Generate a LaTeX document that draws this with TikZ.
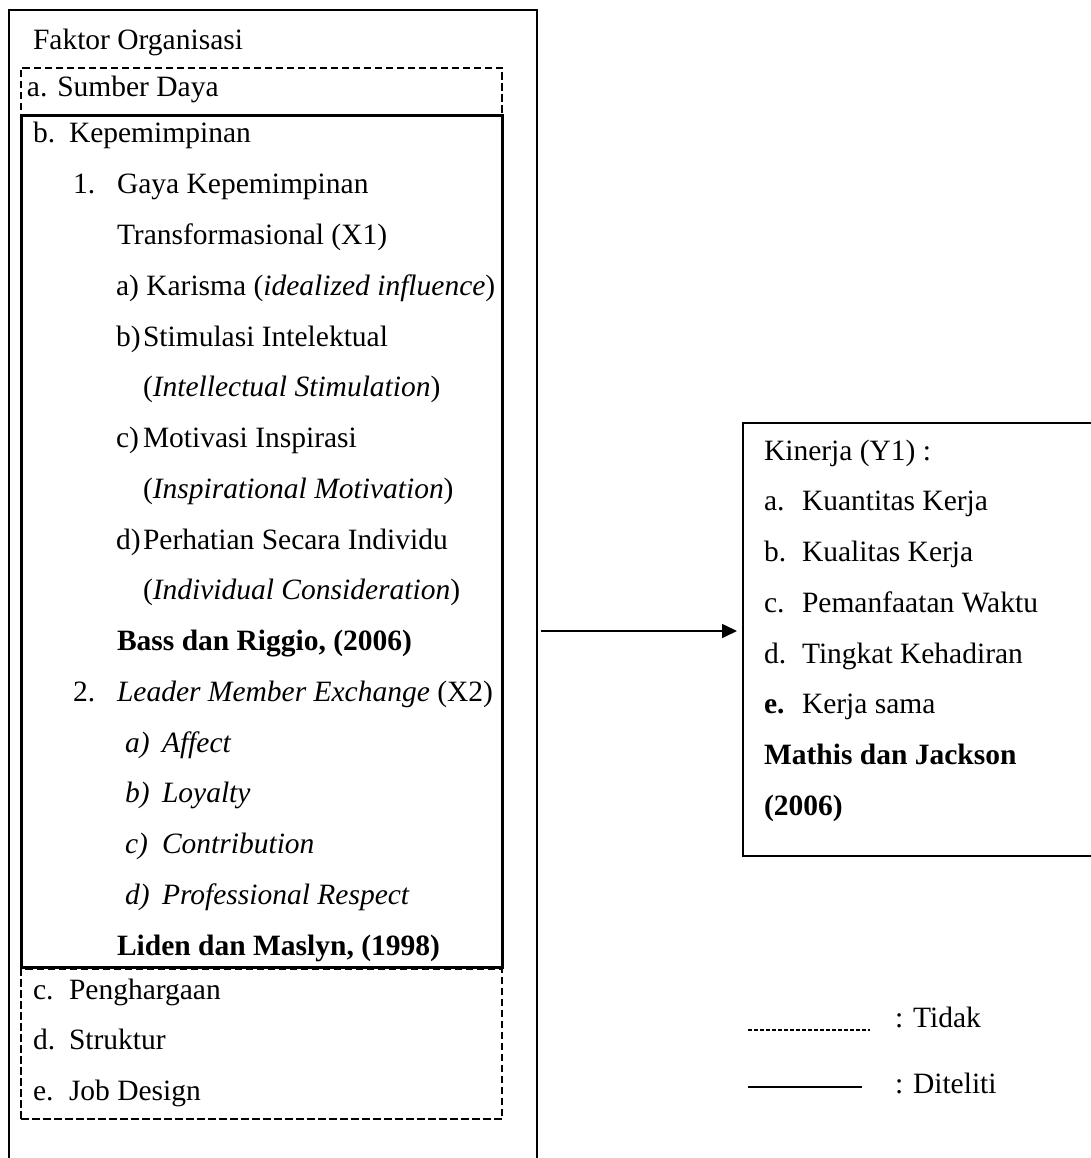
\documentclass[tikz,border=0pt]{standalone}
\usepackage{fontspec}
\setmainfont{Liberation Serif}
\usetikzlibrary{arrows.meta}
\begin{document}
\begin{tikzpicture}[x=1pt,y=-1pt,
  every node/.style={inner sep=0pt,outer sep=0pt},
  txt/.style={anchor=base west,font=\fontsize{29.5}{34}\selectfont},
  boxsolid/.style={draw,line width=2.6pt,anchor=north west},
  boxdash/.style={draw,line width=2pt,dash pattern=on 7.5pt off 3.5pt,anchor=north west},
  conn/.style={line width=1.6pt,-{Triangle[length=15pt,width=14pt]}},
  legdash/.style={line width=1.6pt,dash pattern=on 3.5pt off 2.5pt},
  legsolid/.style={line width=1.4pt}]
\useasboundingbox (0,0) rectangle (1091,1158);
% boxes
\node[boxsolid,minimum width=528pt,minimum height=1250pt] (outer) at (9,10) {};
\node[boxdash,minimum width=481pt,minimum height=48pt] (boxa) at (21,68) {};
\node[boxdash,minimum width=481pt,minimum height=150pt] (boxc) at (21,969) {};
\node[boxsolid,line width=3pt,minimum width=481pt,minimum height=851pt] (boxb) at (21,116) {};
\node[boxsolid,minimum width=420pt,minimum height=433pt] (kin) at (743,423) {};
% left texts
\node[txt] (t0) at (33,50) {Faktor Organisasi};
\node[txt] (ta) at (27,97) {a. Sumber Daya};
\node[txt] (tb1) at (33,143) {b.};
\node[txt] (tb2) at (69,143) {Kepemimpinan};
\node[txt] (t11) at (73,193.75) {1.};
\node[txt] (t12) at (117,193.75) {Gaya Kepemimpinan};
\node[txt] (t2) at (117,244.5) {Transformasional (X1)};
\node[txt] (t3) at (116,295.25) {a) Karisma (\textit{idealized influence})};
\node[txt] (t41) at (116,346) {b)};
\node[txt] (t42) at (143,346) {Stimulasi Intelektual};
\node[txt] (t5) at (143,396.75) {(\textit{Intellectual Stimulation})};
\node[txt] (t61) at (116,447.5) {c)};
\node[txt] (t62) at (143,447.5) {Motivasi Inspirasi};
\node[txt] (t7) at (143,498.25) {(\textit{Inspirational Motivation})};
\node[txt] (t81) at (116,549) {d)};
\node[txt] (t82) at (143,549) {Perhatian Secara Individu};
\node[txt] (t9) at (143,599.75) {(\textit{Individual Consideration})};
\node[txt] (t10) at (117,650.5) {\textbf{Bass dan Riggio, (2006)}};
\node[txt] (t111) at (73,701.25) {2.};
\node[txt] (t112) at (117,701.25) {\textit{Leader Member Exchange} (X2)};
\node[txt] (t121) at (125,752) {\textit{a)}};
\node[txt] (t122) at (162,752) {\textit{Affect}};
\node[txt] (t131) at (125,802.75) {\textit{b)}};
\node[txt] (t132) at (162,802.75) {\textit{Loyalty}};
\node[txt] (t141) at (125,853.5) {\textit{c)}};
\node[txt] (t142) at (162,853.5) {\textit{Contribution}};
\node[txt] (t151) at (125,904.25) {\textit{d)}};
\node[txt] (t152) at (162,904.25) {\textit{Professional Respect}};
\node[txt] (t16) at (117,955) {\textbf{Liden dan Maslyn, (1998)}};
\node[txt] (tc1) at (33,999) {c.};
\node[txt] (tc2) at (69,999) {Penghargaan};
\node[txt] (td1) at (33,1049.5) {d.};
\node[txt] (td2) at (69,1049.5) {Struktur};
\node[txt] (te1) at (33,1100) {e.};
\node[txt] (te2) at (69,1100) {Job Design};
% right texts
\node[txt] (k0) at (764,460) {Kinerja (Y1) :};
\node[txt] (k11) at (764,510.75) {a.};
\node[txt] (k12) at (802,510.75) {Kuantitas Kerja};
\node[txt] (k21) at (764,561.5) {b.};
\node[txt] (k22) at (802,561.5) {Kualitas Kerja};
\node[txt] (k31) at (764,612.25) {c.};
\node[txt] (k32) at (802,612.25) {Pemanfaatan Waktu};
\node[txt] (k41) at (764,663) {d.};
\node[txt] (k42) at (802,663) {Tingkat Kehadiran};
\node[txt] (k51) at (764,713.75) {\textbf{e.}};
\node[txt] (k52) at (802,713.75) {Kerja sama};
\node[txt] (k6) at (764,764.5) {\textbf{Mathis dan Jackson}};
\node[txt] (k7) at (764,815.25) {\textbf{(2006)}};
% connector
\coordinate (aS) at (541,631);
\coordinate (aE) at (737,631);
\draw[conn] (aS) -- (aE);
% legend
\coordinate (l1a) at (748,1030);
\coordinate (l1b) at (870,1030);
\coordinate (l2a) at (748,1087);
\coordinate (l2b) at (862,1087);
\draw[legdash] (l1a) -- (l1b);
\draw[legsolid] (l2a) -- (l2b);
\node[txt] (lt1) at (895,1027) {: Tidak};
\node[txt] (lt2) at (895,1093) {: Diteliti};
\end{tikzpicture}
\end{document}
